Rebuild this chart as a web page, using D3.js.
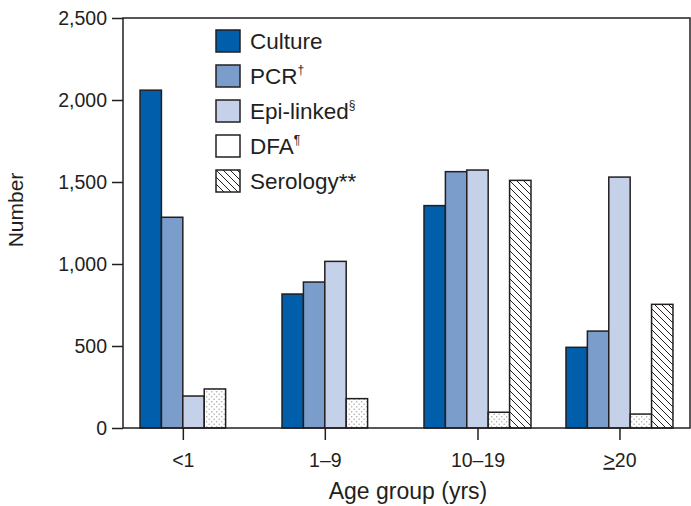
<!DOCTYPE html>
<html>
<head>
<meta charset="utf-8">
<script src="https://cdn.jsdelivr.net/npm/d3@7"></script>
<style>
  body { margin: 0; background: #fff; }
  svg { display: block; font-family: "Liberation Sans", Arial, sans-serif; }
  .axis text { fill: #231f20; }
</style>
</head>
<body>
<div id="chart"></div>
<script>
// Age groups on the x axis
const groups = ['<1', '1–9', '10–19', '≥20'];

// Diagnostic test series (one value per age group)
const series = ['Culture', 'PCR', 'Epi-linked', 'DFA', 'Serology'];
const culture = [2060, 817, 1356, 492];
const pcr = [1285, 890, 1563, 591];
const epiLinked = [195, 1016, 1573, 1530];
const dfa = [238, 179, 96, 85];
const serology = [null, null, 1510, 754];

const legendLabels = ['Culture', 'PCR', 'Epi-linked', 'DFA', 'Serology**'];
const legendMarks = ['', '†', '§', '¶', ''];

const yTicks = [0, 500, 1000, 1500, 2000, 2500];

const width = 691;
const height = 506;
const margin = { top: 18, right: 1, bottom: 78, left: 123 };
const innerW = width - margin.left - margin.right;
const innerH = height - margin.top - margin.bottom;
const ink = '#231f20';

const values = { Culture: culture, PCR: pcr, 'Epi-linked': epiLinked, DFA: dfa, Serology: serology };
const fills = {
  Culture: '#005eaa',
  PCR: '#7b9dcc',
  'Epi-linked': '#c5d1e8',
  DFA: 'url(#dots)',
  Serology: 'url(#hatch)'
};

const svg = d3.select('#chart').append('svg')
  .attr('width', width)
  .attr('height', height);

// Patterns for DFA (stipple) and serology (hatch)
const defs = svg.append('defs');
const dots = defs.append('pattern')
  .attr('id', 'dots')
  .attr('patternUnits', 'userSpaceOnUse')
  .attr('width', 5).attr('height', 5);
dots.append('rect').attr('width', 5).attr('height', 5).attr('fill', '#fff');
dots.append('circle').attr('cx', 1.2).attr('cy', 1.2).attr('r', 0.75).attr('fill', '#a8a8a8');
dots.append('circle').attr('cx', 3.7).attr('cy', 3.7).attr('r', 0.75).attr('fill', '#a8a8a8');

const hatch = defs.append('pattern')
  .attr('id', 'hatch')
  .attr('patternUnits', 'userSpaceOnUse')
  .attr('width', 7).attr('height', 7);
hatch.append('rect').attr('width', 7).attr('height', 7).attr('fill', '#fff');
hatch.append('path')
  .attr('d', 'M0,0L7,7M-2,5L2,9M5,-2L9,2')
  .attr('stroke', ink)
  .attr('stroke-width', 1);

const g = svg.append('g')
  .attr('transform', `translate(${margin.left},${margin.top})`);

const x0 = d3.scaleBand()
  .domain(groups)
  .range([0, innerW])
  .paddingInner(0.2465)
  .paddingOuter(0.12);

const x1 = d3.scaleBand()
  .domain(series)
  .range([0, x0.bandwidth()]);

const y = d3.scaleLinear()
  .domain([0, 2500])
  .range([innerH, 0]);

// Bars
const barData = [];
groups.forEach((grp, i) => {
  series.forEach(s => {
    const v = values[s][i];
    if (v != null) barData.push({ group: grp, series: s, value: v });
  });
});

g.append('g').selectAll('rect')
  .data(barData)
  .join('rect')
  .attr('x', d => x0(d.group) + x1(d.series))
  .attr('y', d => y(d.value))
  .attr('width', x1.bandwidth())
  .attr('height', d => innerH - y(d.value))
  .attr('fill', d => fills[d.series])
  .attr('stroke', ink)
  .attr('stroke-width', 1.5);

// Tick position = centre of the bars actually drawn in each group
const centers = groups.map(grp => {
  const xs = barData.filter(d => d.group === grp).map(d => x0(grp) + x1(d.series));
  return (d3.min(xs) + d3.max(xs) + x1.bandwidth()) / 2;
});
const xTick = d3.scaleOrdinal().domain(groups).range(centers);

const xAxis = g.append('g')
  .attr('class', 'axis')
  .attr('transform', `translate(0,${innerH})`)
  .call(d3.axisBottom(xTick).tickSize(12).tickPadding(13).tickSizeOuter(0));
xAxis.select('.domain').remove();
xAxis.selectAll('line').attr('stroke', ink).attr('stroke-width', 1.5);
xAxis.selectAll('text')
  .attr('font-size', 19.5)
  .each(function (d) {
    if (d.startsWith('≥')) {
      const t = d3.select(this).text(null);
      t.append('tspan').attr('text-decoration', 'underline').text('>');
      t.append('tspan').text(d.slice(1));
    }
  });

const yAxis = g.append('g')
  .attr('class', 'axis')
  .call(d3.axisLeft(y).tickValues(yTicks).tickFormat(d3.format(',')).tickSize(11).tickPadding(5).tickSizeOuter(0));
yAxis.select('.domain').remove();
yAxis.selectAll('line').attr('stroke', ink).attr('stroke-width', 1.5);
yAxis.selectAll('text').attr('font-size', 19.5);

// Plot frame
g.append('rect')
  .attr('width', innerW)
  .attr('height', innerH)
  .attr('fill', 'none')
  .attr('stroke', ink)
  .attr('stroke-width', 1.5);

// Axis titles
svg.append('text')
  .attr('x', 408)
  .attr('y', 499)
  .attr('text-anchor', 'middle')
  .attr('font-size', 23)
  .attr('fill', ink)
  .text('Age group (yrs)');

svg.append('text')
  .attr('transform', `translate(23,210) rotate(-90)`)
  .attr('text-anchor', 'middle')
  .attr('font-size', 21)
  .attr('fill', ink)
  .text('Number');

// Legend
const legend = svg.append('g')
  .attr('transform', 'translate(216,30)');
const rows = legend.selectAll('g')
  .data(series)
  .join('g')
  .attr('transform', (d, i) => `translate(0,${i * 35})`);

rows.append('rect')
  .attr('width', 24)
  .attr('height', 22)
  .attr('fill', d => d === 'DFA' ? '#fff' : fills[d])
  .attr('stroke', ink)
  .attr('stroke-width', 1.5);

const labels = rows.append('text')
  .attr('x', 34)
  .attr('y', 19)
  .attr('font-size', 22.5)
  .attr('fill', ink);
labels.append('tspan').text((d, i) => legendLabels[i]);
labels.append('tspan')
  .attr('font-size', 12)
  .attr('dy', -10)
  .text((d, i) => legendMarks[i]);
</script>
</body>
</html>
